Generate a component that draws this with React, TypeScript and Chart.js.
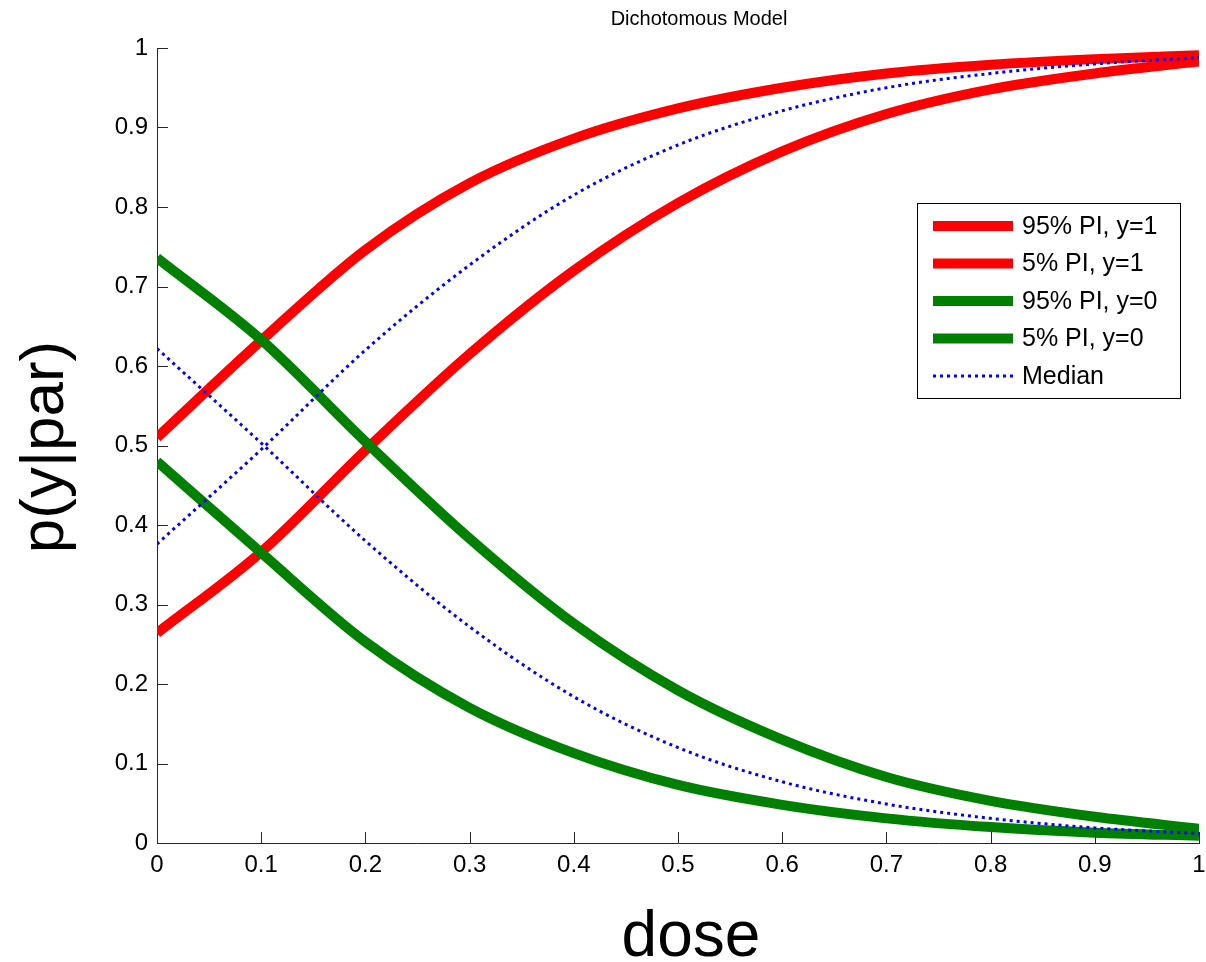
import React, { useEffect, useRef } from "react";
import { Chart, registerables } from "chart.js";

Chart.register(...registerables);

const doses = [0, 0.1, 0.2, 0.3, 0.4, 0.5, 0.6, 0.7, 0.8, 0.9, 1];
const red95y1 = [0.51, 0.632, 0.746, 0.83, 0.886, 0.924, 0.95, 0.968, 0.979, 0.986, 0.991];
const red5y1 = [0.264, 0.366, 0.494, 0.615, 0.72, 0.805, 0.87, 0.917, 0.948, 0.968, 0.983];
const green95y0 = [0.736, 0.633, 0.505, 0.383, 0.276, 0.192, 0.13, 0.083, 0.053, 0.033, 0.018];
const green5y0 = [0.48, 0.365, 0.253, 0.17, 0.113, 0.073, 0.048, 0.031, 0.02, 0.013, 0.009];
const medianY1 = [0.376, 0.495, 0.62, 0.727, 0.815, 0.878, 0.921, 0.95, 0.968, 0.98, 0.988];
const medianY0 = [0.622, 0.503, 0.38, 0.272, 0.184, 0.12, 0.077, 0.049, 0.031, 0.019, 0.012];

const xTickLabels = ["0", "0.1", "0.2", "0.3", "0.4", "0.5", "0.6", "0.7", "0.8", "0.9", "1"];
const yTickLabels = ["0", "0.1", "0.2", "0.3", "0.4", "0.5", "0.6", "0.7", "0.8", "0.9", "1"];

const legendLabels = ["95% PI, y=1", "5% PI, y=1", "95% PI, y=0", "5% PI, y=0", "Median"];

const FONT = "'Liberation Sans', Arial, sans-serif";

const toPts = (ys: number[]) => doses.map((d, i) => ({ x: d, y: ys[i] }));

const decorPlugin = {
  id: "decor",
  afterDraw(chart: any) {
    const ctx = chart.ctx as CanvasRenderingContext2D;
    const { left, bottom } = chart.chartArea;
    const xs = chart.scales.x;
    const ys = chart.scales.y;
    ctx.save();
    // inward tick marks
    ctx.strokeStyle = "#262626";
    ctx.lineWidth = 1;
    ctx.beginPath();
    doses.forEach((d) => {
      const px = Math.round(xs.getPixelForValue(d)) + 0.5;
      ctx.moveTo(px, bottom);
      ctx.lineTo(px, bottom - 11);
    });
    yTickLabels.forEach((_, i) => {
      const py = Math.round(ys.getPixelForValue(i / 10)) + 0.5;
      ctx.moveTo(left, py);
      ctx.lineTo(left + 11, py);
    });
    ctx.stroke();

    // chart title
    ctx.fillStyle = "#000";
    ctx.font = `20px ${FONT}`;
    ctx.textAlign = "center";
    ctx.textBaseline = "alphabetic";
    ctx.fillText("Dichotomous Model", 699, 25);

    // x axis title
    ctx.font = `64px ${FONT}`;
    ctx.fillText("dose", 691, 956);

    // y axis title
    ctx.save();
    ctx.translate(63, 447);
    ctx.rotate(-Math.PI / 2);
    ctx.font = `62px ${FONT}`;
    ctx.textAlign = "center";
    ctx.fillText("p(y|par)", 0, 0);
    ctx.restore();

    // legend
    const bx = 917, by = 203, bw = 263, bh = 195;
    ctx.fillStyle = "#fff";
    ctx.fillRect(bx, by, bw, bh);
    ctx.strokeStyle = "#000";
    ctx.lineWidth = 1;
    ctx.strokeRect(bx + 0.5, by + 0.5, bw, bh);
    const ds = chart.data.datasets;
    legendLabels.forEach((lab, i) => {
      const d = ds[i];
      const cy = 226 + i * 37.5;
      ctx.save();
      ctx.strokeStyle = d.borderColor;
      ctx.lineWidth = d.borderWidth;
      ctx.lineCap = "butt";
      ctx.setLineDash(d.borderDash || []);
      ctx.beginPath();
      ctx.moveTo(933, cy);
      ctx.lineTo(1013, cy);
      ctx.stroke();
      ctx.restore();
      ctx.fillStyle = "#000";
      ctx.font = `25px ${FONT}`;
      ctx.textAlign = "left";
      ctx.textBaseline = "middle";
      ctx.fillText(lab, 1022, cy + 1);
    });
    ctx.restore();
  },
};

export default function App() {
  const ref = useRef<HTMLCanvasElement | null>(null);
  useEffect(() => {
    if (!ref.current) return;
    const thick = {
      borderWidth: 10,
      pointRadius: 0,
      fill: false,
      cubicInterpolationMode: "monotone" as const,
      borderCapStyle: "butt" as const,
    };
    const dotted = {
      borderWidth: 3,
      pointRadius: 0,
      fill: false,
      borderDash: [3, 4],
      cubicInterpolationMode: "monotone" as const,
      borderCapStyle: "butt" as const,
    };
    const chart = new Chart(ref.current, {
      type: "line",
      data: {
        datasets: [
          { label: legendLabels[0], data: toPts(red95y1), borderColor: "#ff0000", order: 5, ...thick },
          { label: legendLabels[1], data: toPts(red5y1), borderColor: "#ff0000", order: 4, ...thick },
          { label: legendLabels[2], data: toPts(green95y0), borderColor: "#008000", order: 3, ...thick },
          { label: legendLabels[3], data: toPts(green5y0), borderColor: "#008000", order: 2, ...thick },
          { label: legendLabels[4], data: toPts(medianY1), borderColor: "#0000ff", order: 1, ...dotted },
          { label: "Median (y=0)", data: toPts(medianY0), borderColor: "#0000ff", order: 0, ...dotted },
        ],
      },
      options: {
        responsive: false,
        animation: false,
        layout: { padding: { left: 0, right: 7, top: 48, bottom: 0 } },
        plugins: {
          legend: { display: false },
          title: { display: false },
          tooltip: { enabled: false },
        },
        scales: {
          x: {
            type: "linear",
            min: 0,
            max: 1,
            afterFit: (s: any) => {
              s.height = 119;
              s.paddingLeft = 0;
              s.paddingRight = 0;
            },
            ticks: {
              stepSize: 0.1,
              padding: 8,
              color: "#000",
              font: { family: FONT, size: 24 },
              maxRotation: 0,
              autoSkip: false,
              callback: (_v: any, i: number) => xTickLabels[i],
            },
            grid: { display: true, drawOnChartArea: false, drawTicks: false },
            border: { display: true, color: "#262626", width: 1 },
          },
          y: {
            type: "linear",
            min: 0,
            max: 1,
            afterFit: (s: any) => {
              s.width = 157;
              s.paddingTop = 0;
              s.paddingBottom = 0;
            },
            ticks: {
              stepSize: 0.1,
              padding: 9,
              color: "#000",
              font: { family: FONT, size: 24 },
              autoSkip: false,
              callback: (_v: any, i: number) => yTickLabels[i],
            },
            grid: { display: true, drawOnChartArea: false, drawTicks: false },
            border: { display: true, color: "#262626", width: 1 },
          },
        },
      },
      plugins: [decorPlugin],
    });
    return () => chart.destroy();
  }, []);
  return (
    <div style={{ position: "absolute", left: 0, top: 0, width: 1206, height: 962, background: "#fff" }}>
      <canvas ref={ref} width={1206} height={962} style={{ display: "block" }} />
    </div>
  );
}
